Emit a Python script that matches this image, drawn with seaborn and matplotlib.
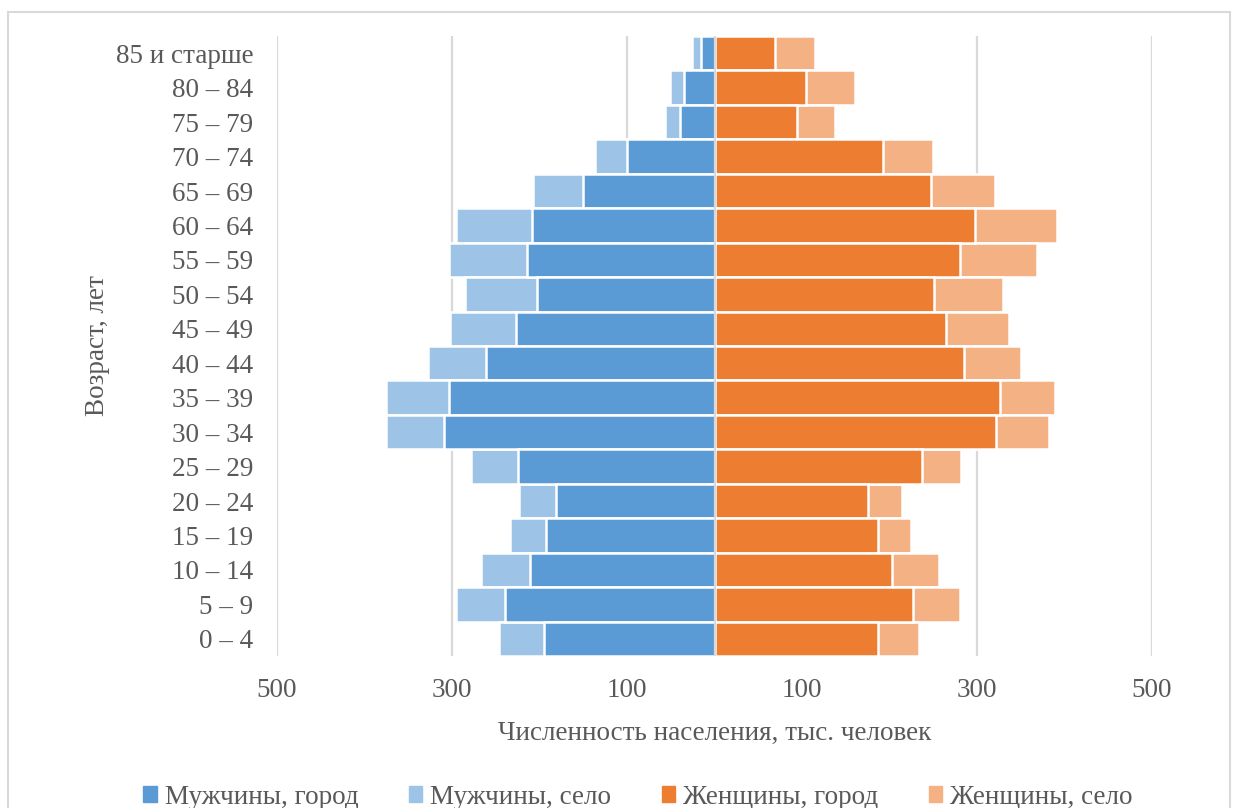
import matplotlib
matplotlib.use("Agg")
import matplotlib.pyplot as plt
import matplotlib.patches as mpatches
import pandas as pd
import seaborn as sns

# age groups, top to bottom
ages = ["85 и старше", "80 – 84", "75 – 79", "70 – 74", "65 – 69", "60 – 64",
        "55 – 59", "50 – 54", "45 – 49", "40 – 44", "35 – 39", "30 – 34",
        "25 – 29", "20 – 24", "15 – 19", "10 – 14", "5 – 9", "0 – 4"]

# thousand people
men_city = [16, 35, 40, 100, 150, 209, 214, 203, 227, 261, 304, 309, 225, 181, 193, 211, 239, 195]
men_village = [10, 16, 17, 37, 58, 87, 89, 82, 75, 67, 71, 67, 53, 42, 41, 56, 57, 51]
women_city = [69, 105, 94, 192, 247, 298, 281, 251, 264, 285, 326, 322, 237, 175, 187, 203, 227, 187]
women_village = [46, 56, 44, 58, 73, 93, 87, 79, 72, 65, 63, 60, 45, 39, 37, 53, 54, 47]

labels = ["Мужчины, город", "Мужчины, село", "Женщины, город", "Женщины, село"]
colors = ["#5B9BD5", "#9DC3E6", "#ED7D31", "#F4B183"]
text_color = "#595959"

df = pd.DataFrame({
    "age": ages,
    "men_total": [-(a + b) for a, b in zip(men_city, men_village)],
    "men_city": [-a for a in men_city],
    "women_total": [a + b for a, b in zip(women_city, women_village)],
    "women_city": women_city,
})

sns.set_style("white")
plt.rcParams["font.family"] = ["Liberation Serif", "DejaVu Serif"]
plt.rcParams["text.color"] = text_color
fs = 19.5

fig = plt.figure(figsize=(12.35, 8.08), dpi=100)
ax = fig.add_axes([277 / 1235, 1 - 656 / 808, 875 / 1235, 620 / 808])

bar_kw = dict(y="age", orient="h", width=1.0, edgecolor="white", linewidth=1.8,
              saturation=1, ax=ax, zorder=2)
sns.barplot(data=df, x="men_total", color=colors[1], **bar_kw)
sns.barplot(data=df, x="men_city", color=colors[0], **bar_kw)
sns.barplot(data=df, x="women_total", color=colors[3], **bar_kw)
sns.barplot(data=df, x="women_city", color=colors[2], **bar_kw)

ticks = [-500, -300, -100, 100, 300, 500]
for t in ticks:
    ax.axvline(t, color="#D9D9D9", lw=1.6, zorder=0)
ax.axvline(0, color="#D9D9D9", lw=1.6, zorder=3)

ax.set_xlim(-500, 500)
ax.set_ylim(len(ages) - 0.5, -0.5)
ax.set_xticks(ticks)
ax.set_xticklabels([str(abs(t)) for t in ticks])
ax.tick_params(axis="x", length=0, pad=16, labelsize=fs, labelcolor=text_color)
ax.tick_params(axis="y", length=0, pad=17, labelsize=fs, labelcolor=text_color)
for s in ax.spines.values():
    s.set_visible(False)

ax.set_xlabel("Численность населения, тыс. человек", fontsize=fs, color=text_color, labelpad=13)
ax.set_ylabel("")
fig.text(98 / 1235, 1 - 346 / 808, "Возраст, лет", rotation=90, fontsize=fs,
         color=text_color, ha="center", va="center")

handles = [mpatches.Patch(color=c, label=l) for c, l in zip(colors, labels)]
fig.legend(handles=handles, loc="center", bbox_to_anchor=(638 / 1235, 1 - 797 / 808), ncol=4,
           frameon=False, fontsize=fs, handlelength=0.5, handleheight=0.5,
           handletextpad=0.3, columnspacing=1.85, labelcolor=text_color)

# chart frame
fig.patches.append(mpatches.Rectangle((8 / 1235, -0.05), 1222 / 1235, 1 - 12 / 808 + 0.05,
                                      transform=fig.transFigure, fill=False,
                                      edgecolor="#D9D9D9", lw=1.5))

fig.savefig("out.png", dpi=100)
